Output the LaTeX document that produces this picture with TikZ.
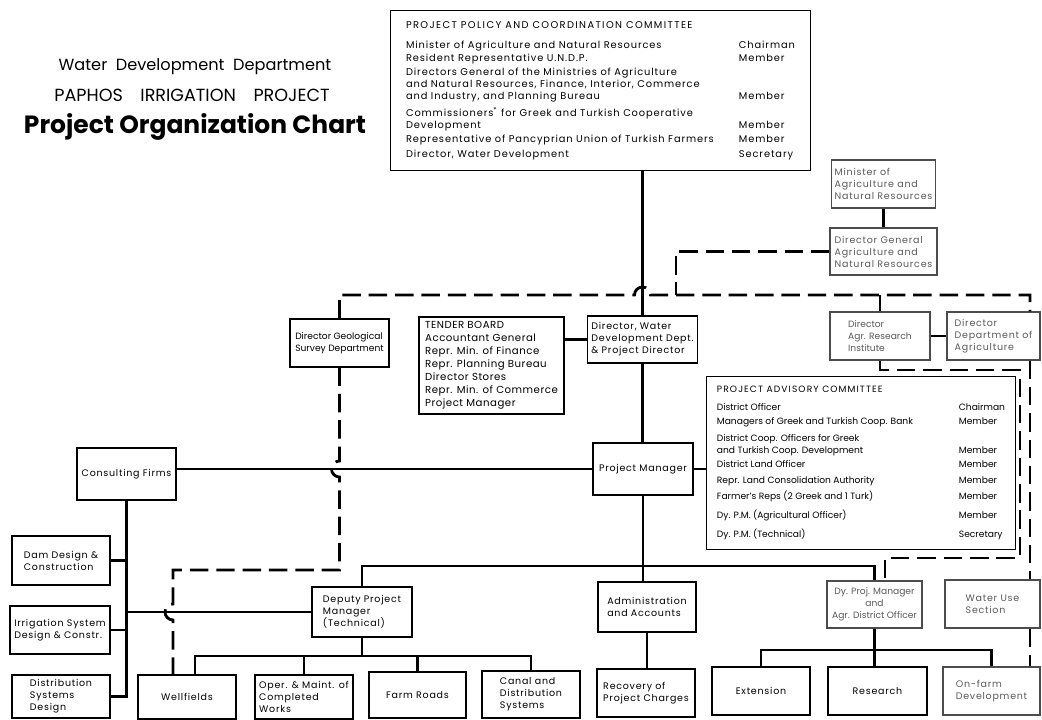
\documentclass[tikz,border=0pt]{standalone}
\usepackage{fontspec}
\setmainfont{Poppins}
\newcommand{\chartfont}{\fontsize{5.4}{6.8}\selectfont\addfontfeatures{LetterSpace=8}}
\newcommand{\plainfont}{\fontsize{5.2}{6.8}\selectfont}
\newcommand{\policyfont}{\fontsize{5.6}{6.8}\selectfont\addfontfeatures{LetterSpace=9}}

\begin{document}
\begin{tikzpicture}[x=0.02cm, y=-0.02cm,
    box/.style={draw, line width=0.6pt, inner sep=2pt, font=\chartfont, align=left},
    tight/.style={font=\plainfont},
    faint/.style={draw=black!70, text=black!65},
    link/.style={line width=1.6pt},
    dlink/.style={line width=1.6pt, dash pattern=on 10.5pt off 4.5pt}
  ]
  \useasboundingbox (0,0) rectangle (1042,720);

  % title
  \node[font=\fontsize{9.2}{11}\selectfont] (dept) at (195,67) {Water\ \ Development\ \ Department};
  \node[font=\fontsize{10}{12}\selectfont] (proj) at (192,95) {PAPHOS\quad IRRIGATION\quad PROJECT};
  \node[font=\fontsize{14.2}{16}\selectfont\bfseries] (chart) at (195,127) {Project Organization Chart};

  % committees
  \node[box, anchor=north west, minimum width=8.4cm, minimum height=3.2cm, inner xsep=0.3cm, font=\policyfont] (ppcc) at (390,10) {%
    \begin{tabular}{@{}p{6.66cm}@{}l@{}}
      {\addfontfeatures{LetterSpace=14}PROJECT POLICY AND COORDINATION COMMITTEE} & \\[4.5pt]
      Minister of Agriculture and Natural Resources & Chairman \\[1.1pt]
      Resident Representative U.N.D.P. & Member \\[1.1pt]
      Directors General of the Ministries of Agriculture & \\
      and Natural Resources, Finance, Interior, Commerce & \\
      and Industry, and Planning Bureau & Member \\[2.3pt]
      Commissioners\textsuperscript{*} for Greek and Turkish Cooperative & \\
      Development & Member \\[1.1pt]
      Representative of Pancyprian Union of Turkish Farmers & Member \\[1.7pt]
      Director, Water Development & Secretary
    \end{tabular}};
  \node[box, tight, anchor=north west, minimum width=6.18cm, minimum height=3.46cm, inner xsep=3pt] (pac) at (706,376) {%
    \begin{tabular}{@{}p{4.84cm}@{}l@{}}
      {\addfontfeatures{LetterSpace=12}PROJECT ADVISORY COMMITTEE} & \\[3.4pt]
      District Officer & Chairman \\[1.1pt]
      Managers of Greek and Turkish Coop. Bank & Member \\[2.8pt]
      District Coop. Officers for Greek & \\
      and Turkish Coop. Development & Member \\[1.1pt]
      District Land Officer & Member \\[2.3pt]
      Repr. Land Consolidation Authority & Member \\[2.3pt]
      Farmer's Reps (2 Greek and 1 Turk) & Member \\[4pt]
      Dy. P.M. (Agricultural Officer) & Member \\[4pt]
      Dy. P.M. (Technical) & Secretary
    \end{tabular}};

  % agriculture ministry
  \node[box, faint, minimum width=2.06cm, minimum height=0.96cm] (minister) at (883.5,184) {Minister of\\Agriculture and\\Natural Resources};
  \node[box, faint, minimum width=2.14cm, minimum height=0.94cm] (dirgen) at (883.5,251.5) {Director General\\Agriculture and\\Natural Resources};
  \node[box, faint, tight, minimum width=2.00cm, minimum height=0.96cm] (agrres) at (880,336) {Director\\Agr. Research\\Institute};
  \node[box, faint, minimum width=1.86cm, minimum height=0.96cm] (deptagr) at (993.5,336) {Director\\Department of\\Agriculture};

  % directorate
  \node[box, tight, minimum width=1.98cm, minimum height=0.96cm] (geo) at (339.5,343) {Director Geological\\Survey Department};
  \node[box, minimum width=2.90cm, minimum height=1.94cm, font=\fontsize{5.8}{7.4}\selectfont\addfontfeatures{LetterSpace=5}] (tender) at (491.5,365.5) {TENDER BOARD\\Accountant General\\Repr. Min. of Finance\\Repr. Planning Bureau\\Director Stores\\Repr. Min. of Commerce\\Project Manager};
  \node[box, minimum width=2.10cm, minimum height=0.94cm] (dirwater) at (642.5,339.5) {Director, Water\\Development Dept.\\\& Project Director};
  \node[box, minimum width=2.00cm, minimum height=1.04cm] (pm) at (643,469) {Project Manager};

  % consultants
  \node[box, minimum width=1.98cm, minimum height=1.04cm] (consult) at (126.5,474) {Consulting Firms};
  \node[box, minimum width=1.96cm, minimum height=0.98cm] (dam) at (61,560.5) {Dam Design \&\\Construction};
  \node[box, minimum width=2.00cm, minimum height=0.96cm] (irrig) at (60,630) {Irrigation System\\Design \& Constr.};
  \node[box, minimum width=1.96cm, minimum height=0.86cm] (distr) at (61,696.5) {Distribution\\Systems\\Design};

  % second level
  \node[box, minimum width=2.00cm, minimum height=1.00cm] (deputy) at (362,612) {Deputy Project\\Manager\\(Technical)};
  \node[box, minimum width=1.96cm, minimum height=1.00cm] (admin) at (647,607) {Administration\\and Accounts};
  \node[box, faint, tight, minimum width=1.90cm, minimum height=0.94cm, align=center] (dyproj) at (874.5,604.5) {Dy. Proj. Manager\\and\\Agr. District Officer};
  \node[box, faint, minimum width=1.90cm, minimum height=0.96cm] (wateruse) at (992.5,604) {Water Use\\Section};

  % bottom row
  \node[box, minimum width=1.96cm, minimum height=0.88cm] (wellf) at (187,697) {Wellfields};
  \node[box, minimum width=1.96cm, minimum height=0.88cm] (oper) at (304,697) {Oper. \& Maint. of\\Completed\\Works};
  \node[box, minimum width=1.94cm, minimum height=0.92cm] (farm) at (417.5,695) {Farm Roads};
  \node[box, minimum width=1.96cm, minimum height=0.94cm] (canal) at (531,694.5) {Canal and\\Distribution\\Systems};
  \node[box, minimum width=1.96cm, minimum height=0.96cm] (recov) at (646,693) {Recovery of\\Project Charges};
  \node[box, minimum width=1.96cm, minimum height=0.96cm] (ext) at (761,691) {Extension};
  \node[box, minimum width=1.98cm, minimum height=0.96cm] (research) at (877.5,691) {Research};
  \node[box, faint, minimum width=1.94cm, minimum height=0.96cm] (onfarm) at (991.5,691) {On-farm\\Development};

  % solid lines
  \draw[link] (dirwater.north) -- (dirwater.north |- ppcc.south);
  \draw[link] (tender.east |- dirwater.west) -- (dirwater.west);
  \draw[link] (dirwater.south) -- (dirwater.south |- pm.north);
  \draw[link] (pm.west) -- (pm.west -| consult.east);
  \draw[link] (pm.east) -- (pm.east -| pac.west);
  \draw[link] (pm.south) -- (pm.south |- admin.north);
  \draw[link] (admin.south) -- (admin.south |- recov.north);
  \coordinate (busa) at (0,566);
  \draw[link] (deputy.north) |- (busa -| dyproj.north) -- (dyproj.north);
  \coordinate (busb) at (0,656);
  \draw[link] ([xshift=0.16cm]wellf.north) |- (busb -| canal.north) -- (canal.north);
  \draw[link] (deputy.south) -- (deputy.south |- busb);
  \draw[link] (oper.north) -- (oper.north |- busb);
  \draw[link] (farm.north) -- (farm.north |- busb);
  \coordinate (busc) at (0,650);
  \draw[link] (ext.north) |- (busc -| onfarm.north) -- (onfarm.north);
  \draw[link] (dyproj.south) -- (dyproj.south |- research.north);
  \draw[link] (consult.south) |- (distr.east);
  \draw[link] (dam.east) -- (dam.east -| consult.south);
  \draw[link] (irrig.east) -- (irrig.east -| consult.south);
  \draw[link] (deputy.west) -- (deputy.west -| consult.south);
  \draw[link] (minister.south) -- (dirgen.north);
  \draw[link] (agrres.east) -- (deptagr.west);

  % dashed lines
  \coordinate (jA) at (676,295);
  \coordinate (rcol) at (1030,295);
  \coordinate (hopt) at (dirwater.north |- jA);
  \draw[dlink] (dirgen.west) -| (jA);
  \draw[dlink] (geo.north) |- ([xshift=-0.16cm]hopt) arc[start angle=180, end angle=0, radius=0.16cm] -- (rcol) -- (rcol |- deptagr.north);
  \draw[dlink] (agrres.north) -- (agrres.north |- jA);
  \draw[dlink] (rcol |- deptagr.south) -- (rcol |- wateruse.north);
  \draw[dlink] (rcol |- wateruse.south) -- (rcol |- onfarm.north);

  \coordinate (hopa) at (geo.south |- pm.west);
  \coordinate (wcol) at ([xshift=-0.28cm]wellf.north);
  \coordinate (hopb) at (wcol |- deputy.west);
  \coordinate (bend) at (0,570);
  \draw[dlink] (geo.south) -- ([yshift=0.16cm]hopa) arc[start angle=90, end angle=270, radius=0.16cm] -- (geo.south |- bend) -| ([yshift=0.16cm]hopb) arc[start angle=90, end angle=270, radius=0.16cm] -- (wcol);

  \coordinate (rcolb) at (1020,370);
  \coordinate (dyin) at ([xshift=0.21cm]dyproj.north);
  \coordinate (dbus) at (0,558);
  \draw[dlink] (agrres.south) |- (rcolb) |- (dyin |- dbus) -- (dyin);
\end{tikzpicture}
\end{document}
